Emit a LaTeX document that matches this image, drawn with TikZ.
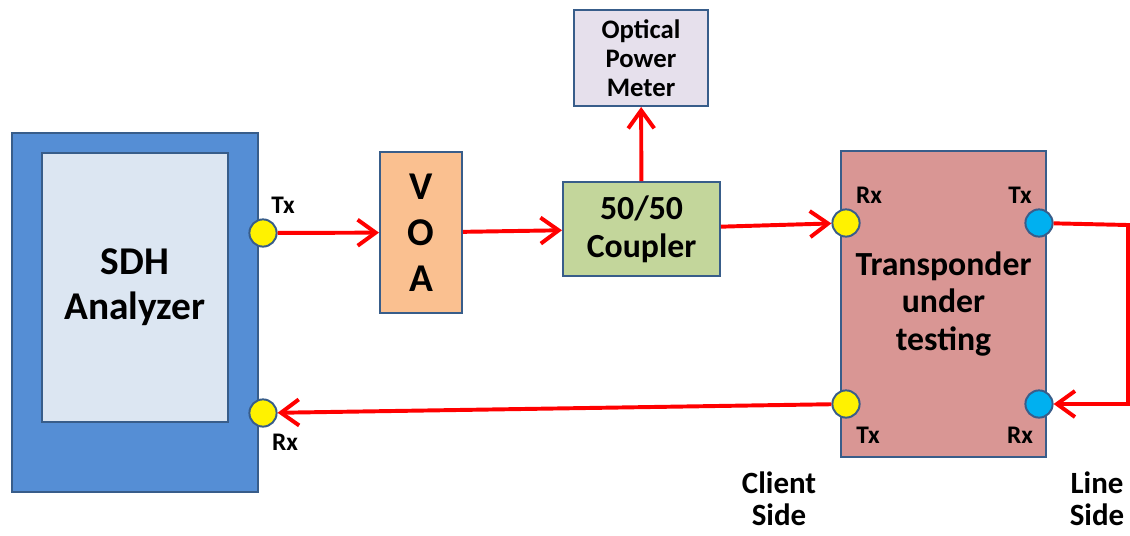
\documentclass[tikz,border=0pt]{standalone}
\usepackage{fontspec}
\setmainfont{Carlito}
\usetikzlibrary{arrows.meta}
\definecolor{edge}{HTML}{385D8A}
\definecolor{sdhblue}{HTML}{558ED5}
\definecolor{sdhpane}{HTML}{DCE6F2}
\definecolor{voaorange}{HTML}{FAC090}
\definecolor{cplgreen}{HTML}{C3D69B}
\definecolor{opmlilac}{HTML}{E6E0EC}
\definecolor{trprose}{HTML}{D99694}
\definecolor{lineblue}{HTML}{00B0F0}
\begin{document}
\begin{tikzpicture}[x=0.025cm,y=-0.025cm,
  box/.style={draw=edge,line width=1.4pt,align=center,inner sep=0pt},
  port/.style={circle,draw=edge,line width=1.4pt,minimum size=0.68cm,inner sep=0pt},
  lbl/.style={font=\fontsize{18}{20}\selectfont\bfseries},
  side/.style={align=center,inner sep=0pt,font=\fontsize{22}{22.5}\selectfont\bfseries},
  sig/.style={red,line width=2.8pt,-{Straight Barb[length=4.5mm,width=6.5mm]}}]
\useasboundingbox (0,0) rectangle (1130,535);
\node[box,fill=sdhblue,minimum width=6.15cm,minimum height=8.975cm] (sdh) at (135,312.5) {};
\node[box,fill=sdhpane,minimum width=4.65cm,minimum height=6.725cm,
  font=\fontsize{28}{32}\selectfont\bfseries] (sdhpane) at (135,287.5) {SDH\\Analyzer};
\node[box,fill=voaorange,minimum width=2.05cm,minimum height=4.025cm,
  font=\fontsize{28}{32.6}\selectfont\bfseries] (voa) at (421,232.5) {V\\O\\A};
\node[box,fill=cplgreen,minimum width=3.925cm,minimum height=2.35cm,
  font=\fontsize{24}{27}\selectfont\bfseries] (cpl) at (641.5,229) {50/50\\Coupler};
\node[box,fill=opmlilac,minimum width=3.35cm,minimum height=2.4cm,
  font=\fontsize{19}{20.6}\selectfont\bfseries] (opm) at (641,58) {Optical\\Power\\Meter};
\node[box,fill=trprose,minimum width=5.125cm,minimum height=7.65cm,
  font=\fontsize{24}{26.6}\selectfont\bfseries] (trp) at (943.5,304) {Transponder\\under\\testing};
\node[port,fill=yellow] (sdhtx) at (263,233) {};
\node[port,fill=yellow] (sdhrx) at (263,413) {};
\node[port,fill=yellow] (crx) at (846,223) {};
\node[port,fill=yellow] (ctx) at (846,404) {};
\node[port,fill=lineblue] (ltx) at (1039,223) {};
\node[port,fill=lineblue] (lrx) at (1039,404) {};
\node[lbl] (sdhtxl) at (283,205) {Tx};
\node[lbl] (sdhrxl) at (285,442) {Rx};
\node[lbl] (crxl) at (869,195) {Rx};
\node[lbl] (ltxl) at (1020,195) {Tx};
\node[lbl] (ctxl) at (868,435) {Tx};
\node[lbl] (lrxl) at (1020,435) {Rx};
\node[side] (client) at (779,499) {Client\\Side};
\node[side] (line) at (1097,499) {Line\\Side};
\draw[sig] (sdhtx) -- (voa);
\draw[sig] (voa) -- (cpl);
\draw[sig] (cpl) -- (opm);
\draw[sig] (cpl) -- (crx);
\draw[sig] (ltx) -- ++(89,2) |- (lrx);
\draw[sig] (ctx) -- (sdhrx);
\end{tikzpicture}
\end{document}
